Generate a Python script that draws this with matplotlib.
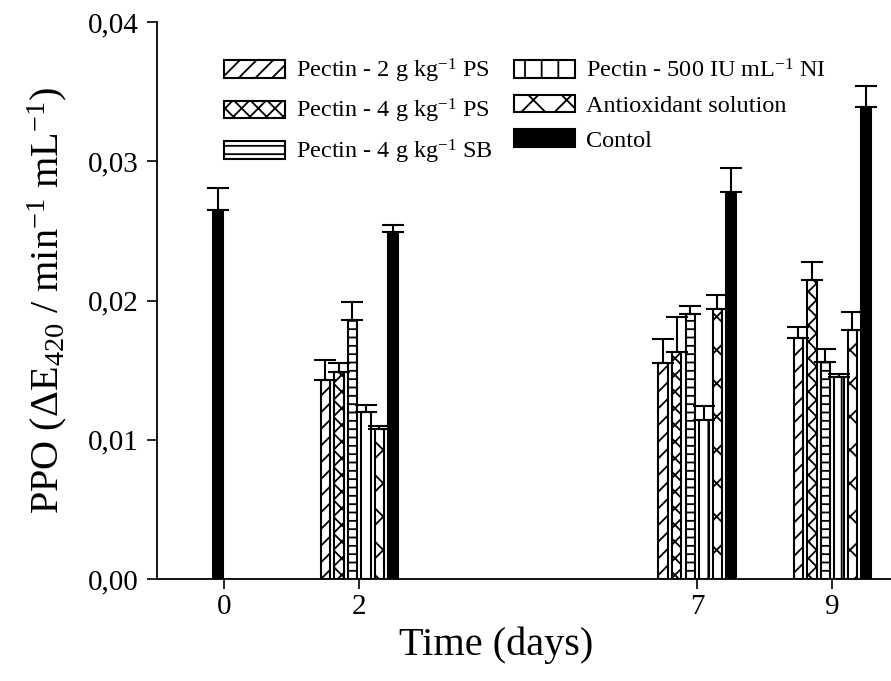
import numpy as np
import matplotlib
matplotlib.use("Agg")
import matplotlib.pyplot as plt

# ---------------- data ----------------
treat_days = [2, 7, 9]
ps2 = [0.0143, 0.0155, 0.0173]
ps2_err = [0.0014, 0.0017, 0.0008]
ps4 = [0.0149, 0.0163, 0.0215]
ps4_err = [0.0006, 0.0025, 0.0013]
sb4 = [0.0186, 0.0190, 0.0156]
sb4_err = [0.0013, 0.0006, 0.0009]
ni = [0.0120, 0.0114, 0.0145]
ni_err = [0.0005, 0.0010, 0.0002]
antiox = [0.0108, 0.0194, 0.0179]
antiox_err = [0.0002, 0.0010, 0.0013]

control_days = [0, 2, 7, 9]
control = [0.0265, 0.0249, 0.0278, 0.0339]
control_err = [0.0016, 0.0005, 0.0017, 0.0015]

labels = [
    r"Pectin - 2 g kg$^{-1}$ PS",
    r"Pectin - 4 g kg$^{-1}$ PS",
    r"Pectin - 4 g kg$^{-1}$ SB",
    r"Pectin - 500 IU mL$^{-1}$ NI",
    "Antioxidant solution",
    "Contol",
]
xticks = [0, 2, 7, 9]
yticks = [0.0, 0.01, 0.02, 0.03, 0.04]
ytick_labels = ["0,00", "0,01", "0,02", "0,03", "0,04"]

# ---------------- style ----------------
plt.rcParams["font.family"] = ["Liberation Serif", "DejaVu Serif"]
plt.rcParams["mathtext.fontset"] = "custom"
plt.rcParams["mathtext.rm"] = "Liberation Serif"
plt.rcParams["mathtext.it"] = "Liberation Serif:italic"
plt.rcParams["mathtext.bf"] = "Liberation Serif:bold"
plt.rcParams["hatch.linewidth"] = 1.3
plt.rcParams["axes.linewidth"] = 1.3

fig = plt.figure(figsize=(8.91, 6.81), dpi=100)
ax = fig.add_axes([157 / 891, 1 - 579 / 681, 734 / 891, 557 / 681])

width = 0.14
pitch = 0.2
day0_offset = -0.09
hatches = ["//", "xx", "--", "|", "x"]
series = [(ps2, ps2_err), (ps4, ps4_err), (sb4, sb4_err), (ni, ni_err), (antiox, antiox_err)]

handles = []
for i, ((vals, errs), h) in enumerate(zip(series, hatches)):
    xs = np.array(treat_days, dtype=float) + (i - 2.5) * pitch
    b = ax.bar(xs, vals, width=width, color="white", edgecolor="black",
               linewidth=1.5, hatch=h, zorder=2)
    ax.errorbar(xs, vals, yerr=[np.zeros(len(errs)), errs], fmt="none",
                ecolor="black", elinewidth=1.5, capsize=8, capthick=1.5, zorder=3)
    handles.append(b)

cx = np.array(control_days, dtype=float) + 2.5 * pitch
cx[0] = control_days[0] + day0_offset
bc = ax.bar(cx, control, width=width, color="black", edgecolor="black",
            linewidth=1.5, zorder=2)
ax.errorbar(cx, control, yerr=[np.zeros(len(control_err)), control_err], fmt="none",
            ecolor="black", elinewidth=1.5, capsize=8, capthick=1.5, zorder=3)
handles.append(bc)

ax.set_xlim(-0.99, 9.87)
ax.set_ylim(0, 0.04)
ax.set_xticks(xticks)
ax.set_xticklabels([str(t) for t in xticks])
ax.set_yticks(yticks)
ax.set_yticklabels(ytick_labels)
ax.tick_params(axis="both", direction="out", length=7, width=1.2, labelsize=21, pad=6)
ax.tick_params(axis="x", pad=4)
ax.spines["top"].set_visible(False)
ax.spines["right"].set_visible(False)

ax.set_xlabel("Time (days)", fontsize=29)
ax.xaxis.set_label_coords(0.462, -0.085)
ax.set_ylabel(r"PPO ($\Delta$E$_{420}$ / min$^{-1}$ mL$^{-1}$)", fontsize=29, labelpad=14)

leg = ax.legend(handles, labels, ncol=2, frameon=False, fontsize=17.5,
                loc="upper left", bbox_to_anchor=(0.068, 0.968),
                handlelength=2.5, handleheight=0.75, handletextpad=0.45,
                columnspacing=0.9, labelspacing=0.5, borderaxespad=0.3)

fig.savefig("out.png", dpi=100)
